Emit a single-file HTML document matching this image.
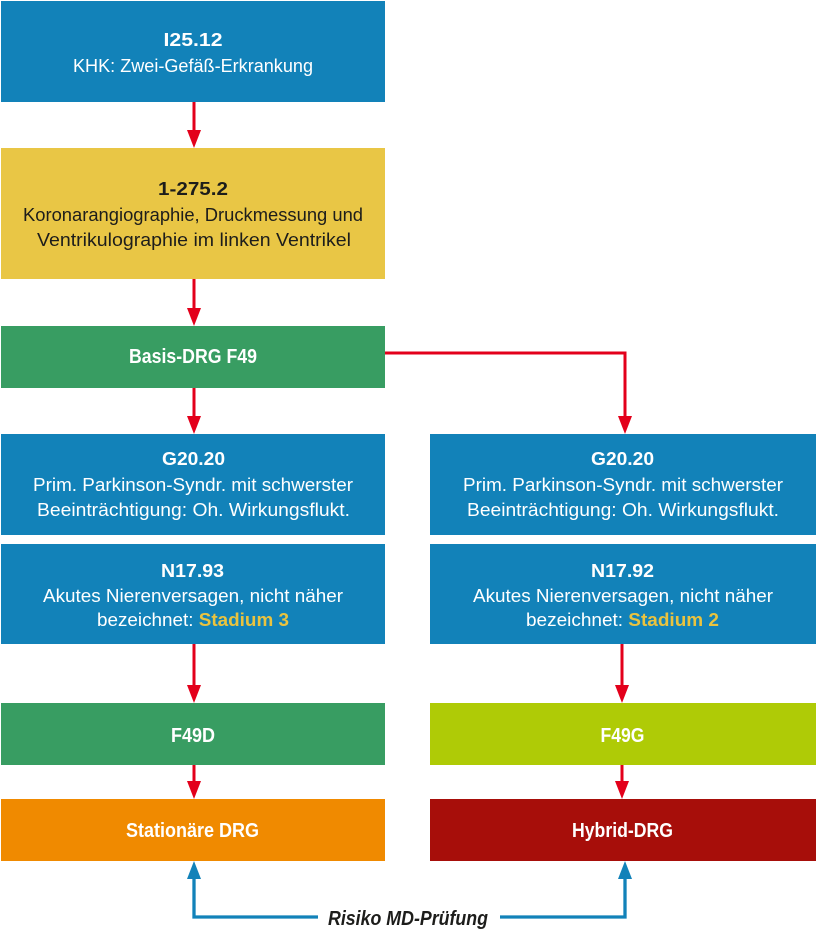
<!DOCTYPE html>
<html>
<head>
<meta charset="utf-8">
<style>
  html,body{margin:0;padding:0;background:#ffffff;}
  body{width:816px;height:934px;overflow:hidden;}
  svg{display:block;}
  text{font-family:"Liberation Sans", Arial, sans-serif;}
  .h{font-weight:bold;font-size:18px;fill:#ffffff;}
  .t{font-size:18px;fill:#ffffff;}
  .hd{font-weight:bold;font-size:18px;fill:#1d1d1b;}
  .td{font-size:18px;fill:#1d1d1b;}
  .L{font-weight:bold;font-size:20px;fill:#ffffff;}
  .st{font-weight:bold;fill:#e9c33f;}
</style>
</head>
<body>
<svg width="816" height="934" viewBox="0 0 816 934" xmlns="http://www.w3.org/2000/svg">
  <!-- boxes -->
  <rect x="1" y="1" width="384" height="101" fill="#1282b9"/>
  <rect x="1" y="148" width="384" height="131" fill="#e9c645"/>
  <rect x="1" y="326" width="384" height="62" fill="#389d62"/>
  <rect x="1" y="434" width="384" height="101" fill="#1282b9"/>
  <rect x="430" y="434" width="386" height="101" fill="#1282b9"/>
  <rect x="1" y="544" width="384" height="100" fill="#1282b9"/>
  <rect x="430" y="544" width="386" height="100" fill="#1282b9"/>
  <rect x="1" y="703" width="384" height="62" fill="#389d62"/>
  <rect x="430" y="703" width="386" height="62" fill="#afcb06"/>
  <rect x="1" y="799" width="384" height="62" fill="#f08a00"/>
  <rect x="430" y="799" width="386" height="62" fill="#a70e0a"/>

  <!-- red connectors -->
  <g stroke="#e3001b" stroke-width="3" fill="none">
    <line x1="194" y1="102" x2="194" y2="131"/>
    <line x1="194" y1="279" x2="194" y2="309"/>
    <line x1="194" y1="388" x2="194" y2="417"/>
    <line x1="194" y1="644" x2="194" y2="686"/>
    <line x1="194" y1="765" x2="194" y2="782"/>
    <polyline points="385,353 625,353 625,417" stroke-linejoin="miter"/>
    <line x1="622" y1="644" x2="622" y2="686"/>
    <line x1="622" y1="765" x2="622" y2="782"/>
  </g>
  <g fill="#e3001b">
    <polygon points="187,130 201,130 194,148"/>
    <polygon points="187,308 201,308 194,326"/>
    <polygon points="187,416 201,416 194,434"/>
    <polygon points="187,685 201,685 194,703"/>
    <polygon points="187,781 201,781 194,799"/>
    <polygon points="618,416 632,416 625,434"/>
    <polygon points="615,685 629,685 622,703"/>
    <polygon points="615,781 629,781 622,799"/>
  </g>

  <!-- blue connector -->
  <g stroke="#1282b9" stroke-width="3.3" fill="none" stroke-linejoin="miter">
    <polyline points="318,917 194,917 194,878"/>
    <polyline points="500,917 625,917 625,878"/>
  </g>
  <g fill="#1282b9">
    <polygon points="187,879 201,879 194,861"/>
    <polygon points="618,879 632,879 625,861"/>
  </g>

  <!-- texts -->
  <text class="h" x="193" y="46" text-anchor="middle" textLength="59" lengthAdjust="spacingAndGlyphs">I25.12</text>
  <text class="t" x="193" y="72" text-anchor="middle" textLength="240" lengthAdjust="spacingAndGlyphs">KHK: Zwei-Gefäß-Erkrankung</text>

  <text class="hd" x="193" y="195" text-anchor="middle" textLength="70" lengthAdjust="spacingAndGlyphs">1-275.2</text>
  <text class="td" x="193" y="221" text-anchor="middle" textLength="340" lengthAdjust="spacingAndGlyphs">Koronarangiographie, Druckmessung und</text>
  <text class="td" x="194" y="246" text-anchor="middle" textLength="314" lengthAdjust="spacingAndGlyphs">Ventrikulographie im linken Ventrikel</text>

  <text class="L" x="193" y="363" text-anchor="middle" textLength="128" lengthAdjust="spacingAndGlyphs">Basis-DRG F49</text>

  <text class="h" x="193.5" y="465" text-anchor="middle" textLength="63" lengthAdjust="spacingAndGlyphs">G20.20</text>
  <text class="t" x="193" y="491" text-anchor="middle" textLength="320" lengthAdjust="spacingAndGlyphs">Prim. Parkinson-Syndr. mit schwerster</text>
  <text class="t" x="193.5" y="516" text-anchor="middle" textLength="313" lengthAdjust="spacingAndGlyphs">Beeinträchtigung: Oh. Wirkungsflukt.</text>

  <text class="h" x="622.5" y="465" text-anchor="middle" textLength="63" lengthAdjust="spacingAndGlyphs">G20.20</text>
  <text class="t" x="623" y="491" text-anchor="middle" textLength="320" lengthAdjust="spacingAndGlyphs">Prim. Parkinson-Syndr. mit schwerster</text>
  <text class="t" x="623" y="516" text-anchor="middle" textLength="312" lengthAdjust="spacingAndGlyphs">Beeinträchtigung: Oh. Wirkungsflukt.</text>

  <text class="h" x="192.5" y="577" text-anchor="middle" textLength="63" lengthAdjust="spacingAndGlyphs">N17.93</text>
  <text class="t" x="193" y="602" text-anchor="middle" textLength="300" lengthAdjust="spacingAndGlyphs">Akutes Nierenversagen, nicht näher</text>
  <text class="t" x="193" y="626" text-anchor="middle" textLength="192" lengthAdjust="spacingAndGlyphs">bezeichnet: <tspan class="st">Stadium 3</tspan></text>

  <text class="h" x="622.5" y="577" text-anchor="middle" textLength="63" lengthAdjust="spacingAndGlyphs">N17.92</text>
  <text class="t" x="623" y="602" text-anchor="middle" textLength="300" lengthAdjust="spacingAndGlyphs">Akutes Nierenversagen, nicht näher</text>
  <text class="t" x="622.5" y="626" text-anchor="middle" textLength="193" lengthAdjust="spacingAndGlyphs">bezeichnet: <tspan class="st">Stadium 2</tspan></text>

  <text class="L" x="193" y="742" text-anchor="middle" textLength="44" lengthAdjust="spacingAndGlyphs">F49D</text>
  <text class="L" x="622.5" y="742" text-anchor="middle" textLength="44" lengthAdjust="spacingAndGlyphs">F49G</text>

  <text class="L" x="192.5" y="837" text-anchor="middle" textLength="133" lengthAdjust="spacingAndGlyphs">Stationäre DRG</text>
  <text class="L" x="622.5" y="837" text-anchor="middle" textLength="101" lengthAdjust="spacingAndGlyphs">Hybrid-DRG</text>

  <text x="408" y="925" text-anchor="middle" textLength="160" lengthAdjust="spacingAndGlyphs" style="font-weight:bold;font-style:italic;font-size:20px;fill:#1d1d1b;">Risiko MD-Prüfung</text>
</svg>
</body>
</html>
